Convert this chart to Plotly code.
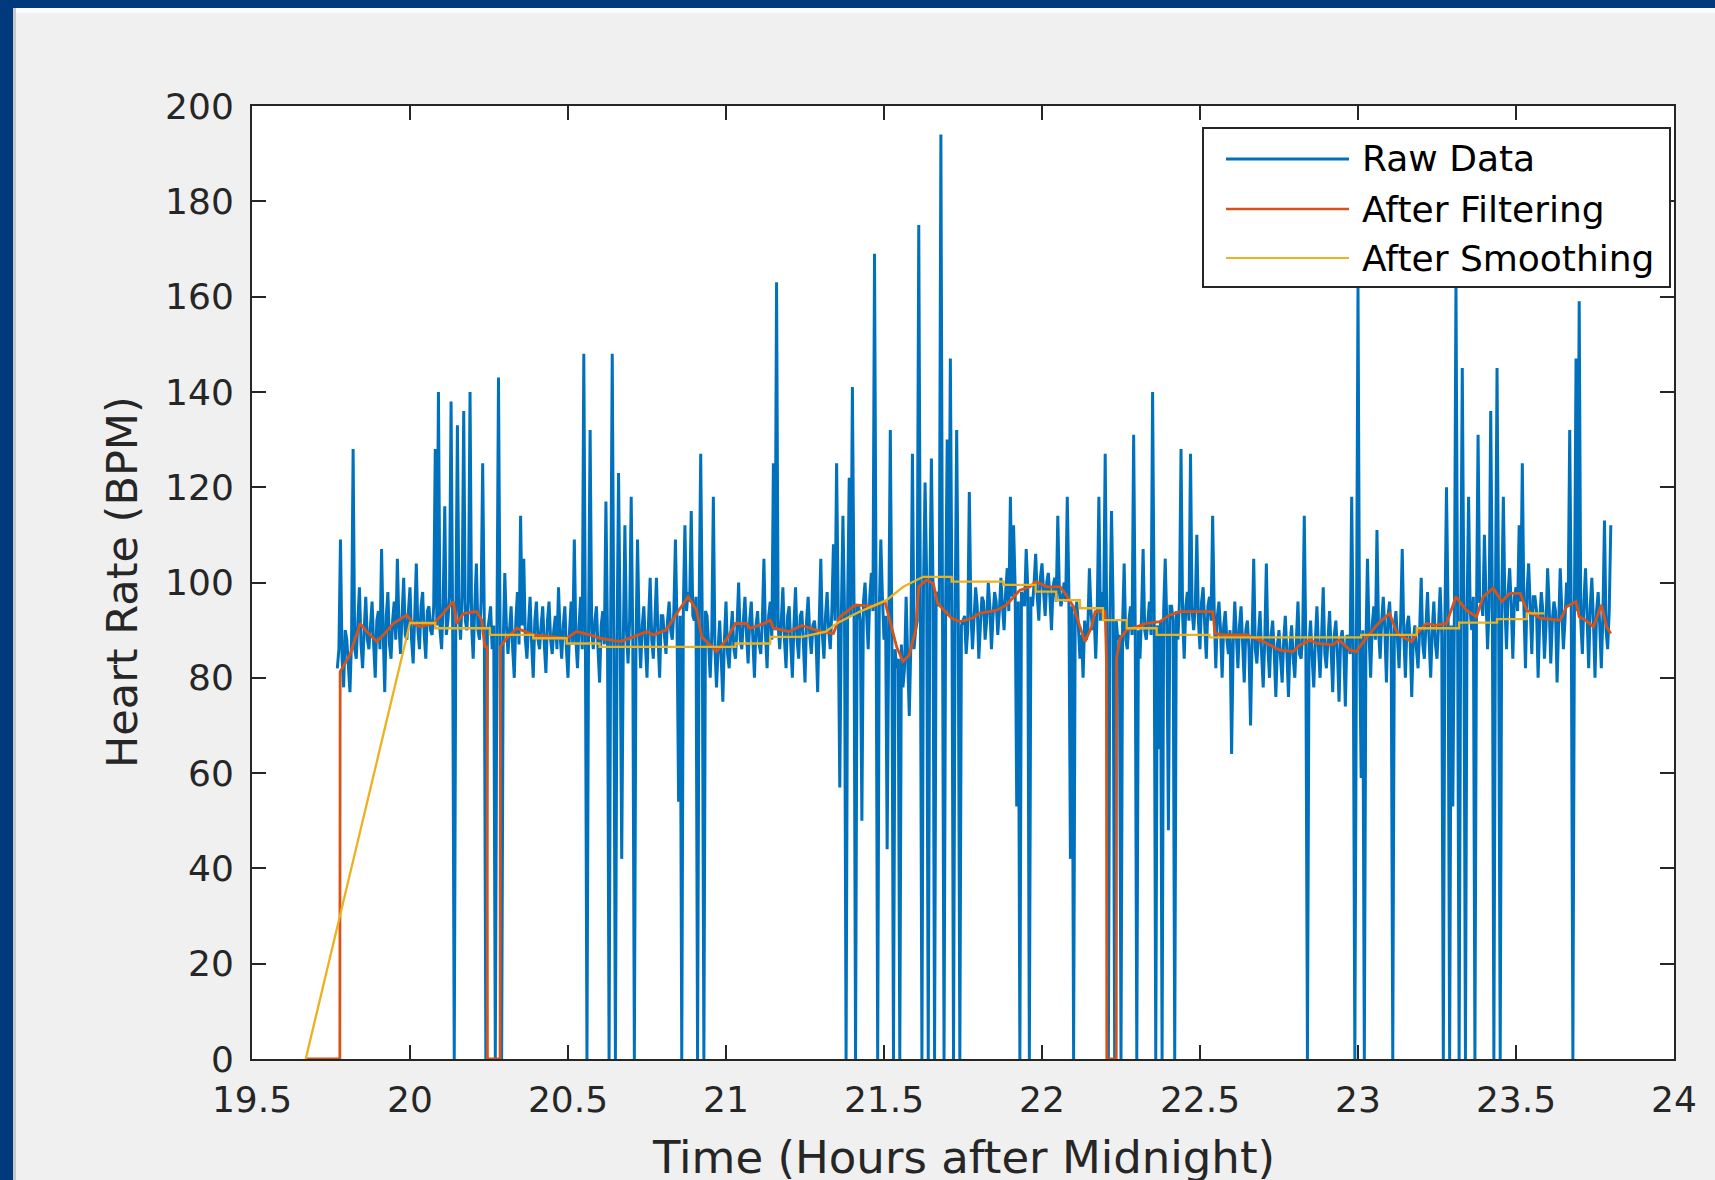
import numpy as np
import plotly.graph_objects as go

# ---------------- data ----------------
RAW_START = 19.77   # hours after midnight of first raw sample
RAW_STEP = 0.005    # sampling interval of the raw series (hours)
RAW_BPM = [
    82, 86, 109, 84, 78, 90, 88, 83, 77, 88, 128, 86, 84, 92, 99, 87, 82, 90, 97, 88,          # 19.77
    86, 91, 96, 87, 80, 92, 94, 86, 107, 90, 77, 93, 98, 87, 84, 92, 96, 88, 105, 91,          # 19.87
    85, 93, 101, 89, 88, 94, 99, 88, 83, 93, 104, 90, 86, 95, 98, 89, 84, 94, 95, 90,          # 19.97
    89, 95, 128, 91, 140, 90, 86, 96, 116, 89, 92, 97, 138, 91, 0, 92, 133, 94, 88, 97,        # 20.07
    136, 92, 90, 96, 140, 91, 84, 95, 104, 90, 88, 96, 125, 93, 0, 90, 92, 95, 86, 91,         # 20.17
    0, 88, 143, 90, 0, 87, 102, 91, 85, 90, 95, 86, 80, 92, 98, 87, 114, 91, 105, 88,          # 20.27
    84, 91, 97, 87, 80, 92, 96, 88, 86, 91, 95, 87, 81, 92, 96, 88, 85, 90, 93, 86,            # 20.37
    99, 89, 84, 91, 95, 86, 80, 90, 96, 87, 109, 88, 82, 91, 97, 86, 148, 90, 0, 89,           # 20.47
    132, 90, 86, 92, 95, 86, 79, 91, 94, 87, 117, 89, 0, 91, 148, 88, 0, 86, 123, 90,          # 20.57
    42, 87, 112, 90, 83, 92, 118, 88, 0, 86, 109, 90, 82, 91, 95, 87, 80, 92, 101, 88,         # 20.67
    84, 92, 101, 88, 80, 93, 93, 89, 85, 92, 96, 90, 88, 94, 109, 91, 54, 93, 0, 95,           # 20.77
    112, 94, 98, 96, 115, 93, 92, 97, 0, 95, 127, 91, 0, 94, 93, 87, 80, 89, 118, 86,          # 20.87
    78, 86, 92, 84, 75, 88, 96, 85, 82, 89, 94, 86, 84, 91, 100, 88, 86, 92, 97, 89,           # 20.97
    83, 92, 96, 88, 80, 91, 94, 87, 85, 92, 105, 89, 82, 93, 96, 88, 125, 90, 163, 91,         # 21.07
    86, 92, 99, 88, 82, 93, 95, 87, 80, 91, 99, 88, 84, 93, 94, 87, 79, 92, 97, 89,            # 21.17
    85, 91, 92, 88, 77, 92, 105, 89, 84, 93, 98, 90, 86, 94, 108, 92, 125, 95, 57, 93,         # 21.27
    114, 94, 0, 96, 122, 93, 141, 97, 0, 95, 95, 92, 50, 96, 100, 93, 86, 97, 102, 94,         # 21.37
    169, 96, 0, 94, 109, 97, 88, 93, 44, 91, 132, 88, 0, 86, 82, 84, 0, 87, 78, 82,            # 21.47
    97, 84, 72, 87, 127, 86, 90, 92, 175, 96, 0, 99, 121, 101, 0, 98, 126, 100, 0, 97,         # 21.57
    98, 95, 194, 96, 0, 94, 130, 93, 147, 95, 0, 92, 132, 94, 0, 91, 92, 93, 85, 90,           # 21.67
    119, 94, 86, 92, 99, 95, 84, 91, 97, 96, 88, 92, 100, 95, 86, 93, 98, 96, 89, 94,          # 21.77
    101, 95, 90, 98, 103, 94, 118, 97, 112, 99, 53, 96, 0, 98, 97, 95, 107, 99, 0, 97,         # 21.87
    95, 100, 106, 97, 92, 101, 104, 98, 93, 100, 102, 97, 90, 99, 101, 96, 114, 98, 95, 97,    # 21.97
    100, 96, 118, 98, 42, 95, 0, 93, 96, 91, 84, 89, 80, 92, 88, 90, 103, 94, 90, 93,          # 22.07
    84, 95, 118, 92, 98, 94, 127, 91, 0, 93, 115, 95, 0, 92, 88, 89, 0, 91, 104, 88,           # 22.17
    86, 92, 95, 89, 131, 91, 0, 90, 84, 93, 107, 90, 88, 92, 96, 89, 140, 93, 0, 91,           # 22.27
    65, 92, 0, 94, 105, 91, 48, 95, 95, 92, 0, 94, 88, 96, 128, 93, 84, 95, 98, 92,            # 22.37
    127, 94, 90, 95, 110, 92, 86, 96, 99, 91, 84, 95, 97, 92, 114, 94, 82, 93, 96, 90,         # 22.47
    80, 91, 94, 88, 85, 90, 64, 87, 96, 89, 82, 91, 95, 87, 79, 90, 92, 86, 70, 89,            # 22.57
    105, 86, 83, 89, 94, 85, 78, 88, 104, 86, 80, 89, 92, 85, 76, 87, 90, 84, 79, 88,          # 22.67
    93, 85, 76, 87, 91, 84, 80, 88, 96, 85, 84, 89, 114, 86, 0, 87, 92, 84, 78, 88,            # 22.77
    95, 86, 80, 89, 99, 85, 82, 88, 94, 86, 77, 89, 92, 85, 75, 88, 90, 86, 74, 89,            # 22.87
    88, 85, 118, 87, 0, 86, 162, 88, 59, 90, 0, 87, 105, 89, 80, 91, 95, 88, 111, 90,          # 22.97
    84, 92, 97, 90, 79, 93, 96, 89, 0, 91, 94, 88, 82, 92, 107, 89, 80, 91, 93, 88,            # 23.07
    76, 88, 91, 86, 82, 90, 101, 87, 84, 91, 98, 88, 80, 90, 96, 87, 84, 91, 99, 89,           # 23.17
    0, 92, 120, 94, 0, 91, 53, 93, 163, 95, 0, 92, 145, 96, 0, 93, 118, 94, 90, 97,            # 23.27
    0, 94, 131, 96, 96, 93, 110, 97, 86, 95, 136, 98, 0, 96, 145, 94, 0, 97, 118, 95,          # 23.37
    86, 98, 103, 95, 84, 97, 99, 94, 112, 96, 125, 95, 82, 98, 104, 95, 85, 97, 97, 94,        # 23.47
    80, 92, 98, 94, 84, 91, 103, 95, 83, 92, 96, 94, 79, 91, 103, 94, 86, 92, 100, 95,         # 23.57
    132, 93, 0, 95, 147, 94, 159, 92, 85, 96, 103, 93, 82, 95, 101, 92, 80, 94, 98, 91,        # 23.67
    82, 93, 113, 90, 86, 94, 112,                                                              # 23.77
]

FILT_T = [19.67, 19.778, 19.779, 19.81, 19.842, 19.863, 19.895, 19.916, 19.947, 19.99,
          20.01, 20.03, 20.074, 20.095, 20.137, 20.148, 20.169, 20.211, 20.227, 20.237,
          20.244, 20.245, 20.285, 20.286, 20.306, 20.338, 20.39, 20.496, 20.527, 20.57,
          20.60, 20.665, 20.707, 20.749, 20.77, 20.81, 20.844, 20.88, 20.907, 20.923,
          20.95, 20.97, 21.0, 21.03, 21.065, 21.076, 21.12, 21.14, 21.15, 21.20,
          21.24, 21.30, 21.34, 21.36, 21.41, 21.465, 21.503, 21.52, 21.54, 21.56,
          21.58, 21.60, 21.61, 21.635, 21.656, 21.67, 21.70, 21.714, 21.74, 21.78,
          21.80, 21.857, 21.888, 21.93, 21.962, 21.98, 22.016, 22.058, 22.08, 22.10,
          22.12, 22.136, 22.157, 22.168, 22.20, 22.204, 22.205, 22.235, 22.236, 22.247,
          22.268, 22.33, 22.373, 22.405, 22.437, 22.54, 22.548, 22.574, 22.648, 22.70,
          22.753, 22.795, 22.816, 22.848, 22.87, 22.92, 22.94, 22.975, 22.995, 23.017,
          23.064, 23.10, 23.12, 23.13, 23.17, 23.186, 23.217, 23.243, 23.28, 23.31,
          23.343, 23.375, 23.396, 23.428, 23.455, 23.48, 23.513, 23.534, 23.576, 23.64,
          23.66, 23.69, 23.70, 23.72, 23.745, 23.77, 23.787, 23.80]
FILT_BPM = [0, 0, 81.3, 84.8, 91.4, 89.7, 87.6, 89.0, 91.4, 93.2,
            91.4, 90.7, 91.4, 92.8, 96.0, 91.4, 93.5, 93.9, 92.1, 86.5,
            86.5, 0, 0, 86.5, 88.3, 90.4, 89.0, 88.3, 89.7, 89.0,
            88.3, 87.6, 88.6, 89.7, 89.0, 90.0, 93.5, 97.0, 94.2, 88.6,
            86.9, 85.5, 87.9, 91.4, 91.4, 90.4, 91.4, 92.1, 90.4, 89.7,
            91.0, 89.7, 89.3, 92.8, 95.3, 95.0, 96.0, 91.4, 86.5, 83.4,
            84.8, 90.0, 99.1, 100.5, 99.8, 95.6, 93.5, 92.5, 91.8, 92.5,
            93.5, 94.2, 95.3, 98.4, 99.1, 100.2, 99.1, 99.1, 97.0, 94.9,
            90.7, 87.6, 90.7, 93.9, 93.9, 83.7, 0, 0, 84.0, 88.3,
            90.0, 91.4, 91.8, 93.2, 93.9, 93.9, 89.3, 89.0, 89.0, 87.6,
            85.8, 85.5, 86.9, 87.9, 87.2, 86.9, 87.9, 85.8, 85.5, 87.6,
            91.4, 93.5, 90.0, 89.0, 87.6, 89.3, 91.4, 91.0, 91.4, 97.0,
            94.2, 92.8, 97.0, 98.8, 96.0, 97.7, 97.7, 94.2, 92.5, 92.1,
            94.9, 96.0, 92.8, 92.1, 90.7, 95.3, 90.7, 89.3]

SMOOTH_T = [19.67, 20.0, 20.08, 20.08, 20.253, 20.253, 20.39, 20.39, 20.496, 20.496,
            20.60, 20.60, 21.03, 21.03, 21.14, 21.14, 21.24, 21.316, 21.35, 21.424,
            21.508, 21.561, 21.624, 21.714, 21.714, 21.878, 21.878, 21.98, 21.98, 22.045,
            22.045, 22.12, 22.12, 22.193, 22.193, 22.268, 22.268, 22.363, 22.363, 22.53,
            22.53, 23.01, 23.01, 23.186, 23.186, 23.32, 23.32, 23.44, 23.44, 23.534,
            23.534, 23.59]
SMOOTH_BPM = [0, 91.5, 91.5, 90.4, 90.4, 89.0, 89.0, 88.3, 88.3, 87.2,
              87.2, 86.5, 86.5, 87.2, 87.2, 88.6, 88.6, 89.7, 91.4, 93.9,
              96.3, 99.1, 101.2, 101.2, 100.2, 100.2, 99.5, 99.5, 98.1, 98.1,
              96.3, 96.3, 94.6, 94.6, 92.1, 92.1, 90.4, 90.4, 89.0, 89.0,
              88.5, 88.5, 89.0, 89.0, 90.4, 90.4, 91.6, 91.6, 92.3, 92.3,
              93.5, 93.5]

X_TICKS = [19.5, 20, 20.5, 21, 21.5, 22, 22.5, 23, 23.5, 24]
X_TICK_LABELS = ["19.5", "20", "20.5", "21", "21.5", "22", "22.5", "23", "23.5", "24"]
Y_TICKS = [0, 20, 40, 60, 80, 100, 120, 140, 160, 180, 200]
Y_TICK_LABELS = ["0", "20", "40", "60", "80", "100", "120", "140", "160", "180", "200"]
SERIES_NAMES = ["Raw Data", "After Filtering", "After Smoothing"]
SERIES_COLORS = ["#0072BD", "#D95319", "#EDB120"]
X_TITLE = "Time (Hours after Midnight)"
Y_TITLE = "Heart Rate (BPM)"

# ---------------- figure ----------------
W, H = 1715, 1180
PL, PR, PT, PB = 252, 1674, 106, 1059   # plot-area pixel box
FONT = "DejaVu Sans"
INK = "#262626"


def px(x):
    return (x - PL) / (PR - PL)


def py(y):
    return (PB - y) / (PB - PT)


raw_t = RAW_START + RAW_STEP * np.arange(len(RAW_BPM))

fig = go.Figure()
fig.add_trace(go.Scatter(x=raw_t, y=RAW_BPM, mode="lines", name=SERIES_NAMES[0],
                         line=dict(color=SERIES_COLORS[0], width=3.0), showlegend=False))
fig.add_trace(go.Scatter(x=FILT_T, y=FILT_BPM, mode="lines", name=SERIES_NAMES[1],
                         line=dict(color=SERIES_COLORS[1], width=2.8), showlegend=False))
fig.add_trace(go.Scatter(x=SMOOTH_T, y=SMOOTH_BPM, mode="lines", name=SERIES_NAMES[2],
                         line=dict(color=SERIES_COLORS[2], width=2.3), showlegend=False))

axis_common = dict(
    showline=True, linecolor=INK, linewidth=2, mirror="ticks",
    ticks="inside", ticklen=14, tickwidth=2, tickcolor=INK,
    showgrid=False, zeroline=False, automargin=False,
    tickfont=dict(family=FONT, size=36, color=INK),
)

fig.update_layout(
    width=W, height=H,
    margin=dict(l=PL, r=W - PR, t=PT, b=H - PB, pad=0),
    paper_bgcolor="#f0f0f0", plot_bgcolor="#ffffff",
    showlegend=False,
    xaxis=dict(range=[19.5, 24], tickmode="array", tickvals=X_TICKS,
               ticktext=X_TICK_LABELS, ticklabelstandoff=8, **axis_common),
    yaxis=dict(range=[0, 200], tickmode="array", tickvals=Y_TICKS,
               ticktext=Y_TICK_LABELS, ticklabelstandoff=9, **axis_common),
)

shapes = []
# window frame (dark blue strips at top and left)
shapes.append(dict(type="rect", xref="paper", yref="paper", x0=px(0), x1=px(W),
                   y0=py(8), y1=py(0), fillcolor="#003a7c", line=dict(width=0), layer="above"))
shapes.append(dict(type="rect", xref="paper", yref="paper", x0=px(0), x1=px(13),
                   y0=py(H), y1=py(0), fillcolor="#003a7c", line=dict(width=0), layer="above"))
shapes.append(dict(type="rect", xref="paper", yref="paper", x0=px(13), x1=px(W),
                   y0=py(13), y1=py(8), fillcolor="#fbfbfb", line=dict(width=0), layer="above"))
shapes.append(dict(type="rect", xref="paper", yref="paper", x0=px(13), x1=px(16),
                   y0=py(H), y1=py(8), fillcolor="#c8c8c8", line=dict(width=0), layer="above"))

# legend box
LEG_X0, LEG_X1, LEG_Y0, LEG_Y1 = 1203, 1670, 128, 287
shapes.append(dict(type="rect", xref="paper", yref="paper",
                   x0=px(LEG_X0), x1=px(LEG_X1), y0=py(LEG_Y1), y1=py(LEG_Y0),
                   fillcolor="#ffffff", line=dict(color=INK, width=2), layer="above"))
annotations = []
row_y = [159, 209, 258]
line_w = [3.2, 2.4, 2.2]
for name, col, yy, lw in zip(SERIES_NAMES, SERIES_COLORS, row_y, line_w):
    shapes.append(dict(type="line", xref="paper", yref="paper",
                       x0=px(1226), x1=px(1349), y0=py(yy), y1=py(yy),
                       line=dict(color=col, width=lw), layer="above"))
    annotations.append(dict(x=px(1360), y=py(yy), xref="paper", yref="paper",
                            text=name, showarrow=False, xanchor="left", yanchor="middle",
                            font=dict(family=FONT, size=36, color="#000000")))

# axis titles
annotations.append(dict(x=px((PL + PR) / 2), y=py(1157), xref="paper", yref="paper",
                        text=X_TITLE, showarrow=False, xanchor="center", yanchor="middle",
                        font=dict(family=FONT, size=45, color=INK)))
annotations.append(dict(x=px(122), y=py(582), xref="paper", yref="paper",
                        text=Y_TITLE, showarrow=False, textangle=-90,
                        xanchor="center", yanchor="middle",
                        font=dict(family=FONT, size=43, color=INK)))

fig.update_layout(shapes=shapes, annotations=annotations)
fig.write_html("out.html", config={"displayModeBar": False},
               post_script="document.body.style.margin='0px';document.body.style.overflow='hidden';")
